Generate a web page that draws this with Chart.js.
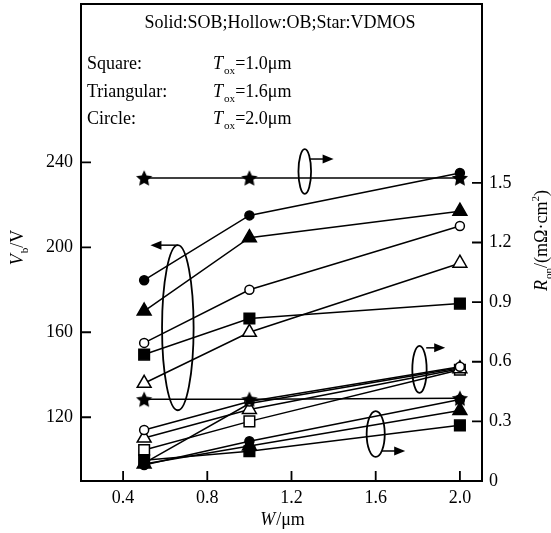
<!DOCTYPE html>
<html>
<head>
<meta charset="utf-8">
<script src="https://cdn.jsdelivr.net/npm/chart.js@4.4.0/dist/chart.umd.min.js"></script>
<style>
  html, body { margin: 0; padding: 0; background: #fff; }
</style>
</head>
<body>
<canvas id="chart" width="551" height="533"></canvas>
<script>
// ---- data ----
const widths = [0.5, 1.0, 2.0];
const xTickValues = [0.4, 0.8, 1.2, 1.6, 2.0];
const vbTickValues = [120, 160, 200, 240];
const ronTickValues = [0, 0.3, 0.6, 0.9, 1.2, 1.5];

// breakdown voltage Vb (V), left axis
const vbSobCircle = [184.5, 215, 235];
const vbSobTriangle = [170, 204.5, 217];
const vbSobSquare = [149.5, 166.5, 173.5];
const vbObCircle = [155, 180, 210];
const vbObTriangle = [136, 160, 192.5];
const vbVdmos = [128.5, 128.5, 129];

// on-resistance Ron (mOhm.cm2), right axis
const ronVdmos = [1.525, 1.525, 1.525];
const ronSobCircle = [0.08, 0.2, 0.41];
const ronSobTriangle = [0.085, 0.176, 0.355];
const ronSobSquare = [0.105, 0.15, 0.28];
const ronObCircle = [0.257, 0.4, 0.575];
const ronObTriangle = [0.216, 0.36, 0.565];
const ronObSquare = [0.156, 0.3, 0.56];
const ronExtra = [0.09, 0.39, 0.57];

const SERIF = '"Liberation Serif", "DejaVu Serif", serif';

// filled five point star used as marker
function makeStar(size) {
    const c = document.createElement('canvas');
    c.width = size; c.height = size;
    const g = c.getContext('2d');
    const cx = size / 2, cy = size / 2 + 0.8, ro = size / 2 - 0.5, ri = ro * 0.48;
    g.beginPath();
    for (let i = 0; i < 10; i++) {
        const r = i % 2 ? ri : ro;
        const a = -Math.PI / 2 + i * Math.PI / 5;
        g.lineTo(cx + r * Math.cos(a), cy + r * Math.sin(a));
    }
    g.closePath();
    g.fillStyle = '#000';
    g.fill();
    return c;
}
const starImg = makeStar(18);

function series(values, axis, style, solid, radius) {
    return {
        data: values.map((v, i) => ({ x: widths[i], y: v })),
        yAxisID: axis,
        showLine: true,
        borderColor: '#000',
        borderWidth: 1.5,
        pointStyle: style,
        pointRadius: radius,
        pointBackgroundColor: solid ? '#000' : '#fff',
        pointBorderColor: '#000',
        pointBorderWidth: 1.5
    };
}

const datasets = [
    series(vbVdmos, 'yl', starImg, true, 8),
    series(ronVdmos, 'yr', starImg, true, 8),
    series(vbSobCircle, 'yl', 'circle', true, 4.5),
    series(vbSobTriangle, 'yl', 'triangle', true, 8),
    series(vbSobSquare, 'yl', 'rect', true, 7.5),
    series(vbObCircle, 'yl', 'circle', false, 4.5),
    series(vbObTriangle, 'yl', 'triangle', false, 8),
    series(ronSobCircle, 'yr', 'circle', true, 4.5),
    series(ronSobTriangle, 'yr', 'triangle', true, 8),
    series(ronSobSquare, 'yr', 'rect', true, 7.5),
    series(ronObCircle, 'yr', 'circle', false, 4.5),
    series(ronObTriangle, 'yr', 'triangle', false, 8),
    series(ronObSquare, 'yr', 'rect', false, 7.5),
    series(ronExtra, 'yr', 'circle', true, 0)
];

// ellipses grouping the curves, with the arrow telling which axis they use
const groupMarks = [
    { axis: 'yl', cx: 0.66, rx: 0.075, y0: 123.3, y1: 201, from: [0.66, 201], to: [0.53, 201] },
    { axis: 'yr', cx: 1.263, rx: 0.03, y0: 1.445, y1: 1.67, from: [1.287, 1.62], to: [1.40, 1.62] },
    { axis: 'yr', cx: 1.808, rx: 0.034, y0: 0.443, y1: 0.68, from: [1.84, 0.67], to: [1.93, 0.67] },
    { axis: 'yr', cx: 1.6, rx: 0.043, y0: 0.121, y1: 0.352, from: [1.63, 0.151], to: [1.74, 0.151] }
];

// draws text made of parts: {t, it, sub, sup}
function richWidth(ctx, parts, size) {
    let w = 0;
    parts.forEach(p => {
        const s = (p.sub || p.sup) ? size * 0.62 : size;
        ctx.font = (p.it ? 'italic ' : '') + s + 'px ' + SERIF;
        w += ctx.measureText(p.t).width;
    });
    return w;
}
function drawRich(ctx, parts, x, y, size) {
    parts.forEach(p => {
        const s = (p.sub || p.sup) ? size * 0.62 : size;
        ctx.font = (p.it ? 'italic ' : '') + s + 'px ' + SERIF;
        let dy = 0;
        if (p.sub) dy = size * 0.28;
        if (p.sup) dy = -size * 0.42;
        ctx.fillText(p.t, x, y + dy);
        x += ctx.measureText(p.t).width + (p.it ? 1 : 0);
    });
}

const decorations = {
    id: 'decorations',
    afterDraw(chart) {
        const { ctx, chartArea: a, scales } = chart;
        const xs = scales.x;
        ctx.save();
        ctx.strokeStyle = '#000';
        ctx.fillStyle = '#000';

        // frame
        ctx.lineWidth = 2;
        ctx.strokeRect(a.left, a.top, a.right - a.left, a.bottom - a.top);

        // inward ticks
        ctx.lineWidth = 1.8;
        ctx.beginPath();
        xTickValues.forEach(v => {
            const px = xs.getPixelForValue(v);
            ctx.moveTo(px, a.bottom); ctx.lineTo(px, a.bottom - 10);
        });
        vbTickValues.forEach(v => {
            const py = scales.yl.getPixelForValue(v);
            ctx.moveTo(a.left, py); ctx.lineTo(a.left + 10, py);
        });
        ronTickValues.slice(1).forEach(v => {
            const py = scales.yr.getPixelForValue(v);
            ctx.moveTo(a.right, py); ctx.lineTo(a.right - 10, py);
        });
        ctx.stroke();

        // ellipses and arrows
        groupMarks.forEach(m => {
            const ys = scales[m.axis];
            const cx = xs.getPixelForValue(m.cx);
            const rx = xs.getPixelForValue(m.cx + m.rx) - cx;
            const yTop = ys.getPixelForValue(m.y1), yBot = ys.getPixelForValue(m.y0);
            ctx.lineWidth = 1.8;
            ctx.beginPath();
            ctx.ellipse(cx, (yTop + yBot) / 2, rx, (yBot - yTop) / 2, 0, 0, Math.PI * 2);
            ctx.stroke();
            const x0 = xs.getPixelForValue(m.from[0]), y0 = ys.getPixelForValue(m.from[1]);
            const x1 = xs.getPixelForValue(m.to[0]), y1 = ys.getPixelForValue(m.to[1]);
            const dir = Math.sign(x1 - x0);
            ctx.lineWidth = 1.5;
            ctx.beginPath();
            ctx.moveTo(x0, y0); ctx.lineTo(x1 - dir * 8, y1);
            ctx.stroke();
            ctx.beginPath();
            ctx.moveTo(x1, y1);
            ctx.lineTo(x1 - dir * 11, y1 - 4.5);
            ctx.lineTo(x1 - dir * 11, y1 + 4.5);
            ctx.closePath();
            ctx.fill();
        });

        // legend text inside the frame
        ctx.textBaseline = 'alphabetic';
        ctx.textAlign = 'left';
        ctx.font = '18px ' + SERIF;
        const head = 'Solid:SOB;Hollow:OB;Star:VDMOS';
        ctx.fillText(head, 280 - ctx.measureText(head).width / 2, 28);
        const rows = [
            ['Square:', '1.0', 69],
            ['Triangular:', '1.6', 97],
            ['Circle:', '2.0', 124]
        ];
        rows.forEach(r => {
            ctx.font = '18px ' + SERIF;
            ctx.fillText(r[0], 87, r[2]);
            drawRich(ctx, [{ t: 'T', it: true }, { t: 'ox', sub: true }, { t: '=' + r[1] + '\u03bcm' }], 213, r[2], 18);
        });

        // axis titles
        const xTitle = [{ t: 'W', it: true }, { t: '/\u03bcm' }];
        drawRich(ctx, xTitle, 282 - richWidth(ctx, xTitle, 18) / 2, 525, 18);

        const lTitle = [{ t: 'V', it: true }, { t: 'b', sub: true }, { t: '/V' }];
        ctx.save();
        ctx.translate(23, 248);
        ctx.rotate(-Math.PI / 2);
        drawRich(ctx, lTitle, -richWidth(ctx, lTitle, 18) / 2, 0, 18);
        ctx.restore();

        const rTitle = [{ t: 'R', it: true }, { t: 'on', sub: true }, { t: '/(m\u03a9\u00b7cm' }, { t: '2', sup: true }, { t: ')' }];
        ctx.save();
        ctx.translate(547, 241);
        ctx.rotate(-Math.PI / 2);
        drawRich(ctx, rTitle, -richWidth(ctx, rTitle, 18) / 2, 0, 18);
        ctx.restore();

        ctx.restore();
    }
};

const tickFont = { family: SERIF, size: 18 };

// fixed axis sizes and no label overhang padding, so the plot frame lands where the figure has it
function fitY(width) {
    return s => { s.width = width; s.paddingTop = 0; s.paddingBottom = 0; };
}

new Chart(document.getElementById('chart'), {
    type: 'scatter',
    data: { datasets: datasets },
    options: {
        responsive: false,
        animation: false,
        events: [],
        layout: { autoPadding: false, padding: { top: 4, left: 0, right: 0, bottom: 0 } },
        plugins: { legend: { display: false }, tooltip: { enabled: false } },
        scales: {
            x: {
                type: 'linear', min: 0.2, max: 2.105,
                afterBuildTicks: s => { s.ticks = xTickValues.map(v => ({ value: v })); },
                afterFit: s => { s.height = 52; s.paddingLeft = 0; s.paddingRight = 0; },
                grid: { display: false, drawTicks: false },
                border: { display: false },
                ticks: { color: '#000', font: tickFont, padding: 6, callback: v => v.toFixed(1) }
            },
            yl: {
                type: 'linear', position: 'left', min: 90, max: 314.5,
                afterBuildTicks: s => { s.ticks = vbTickValues.map(v => ({ value: v })); },
                afterFit: fitY(81),
                grid: { display: false, drawTicks: false },
                border: { display: false },
                ticks: { color: '#000', font: tickFont, padding: 8 }
            },
            yr: {
                type: 'linear', position: 'right', min: 0, max: 2.4,
                afterBuildTicks: s => { s.ticks = ronTickValues.map(v => ({ value: v })); },
                afterFit: fitY(69),
                grid: { display: false, drawTicks: false },
                border: { display: false },
                ticks: { color: '#000', font: tickFont, padding: 7, callback: v => v === 0 ? '0' : v.toFixed(1) }
            }
        }
    },
    plugins: [decorations]
});
</script>
</body>
</html>
